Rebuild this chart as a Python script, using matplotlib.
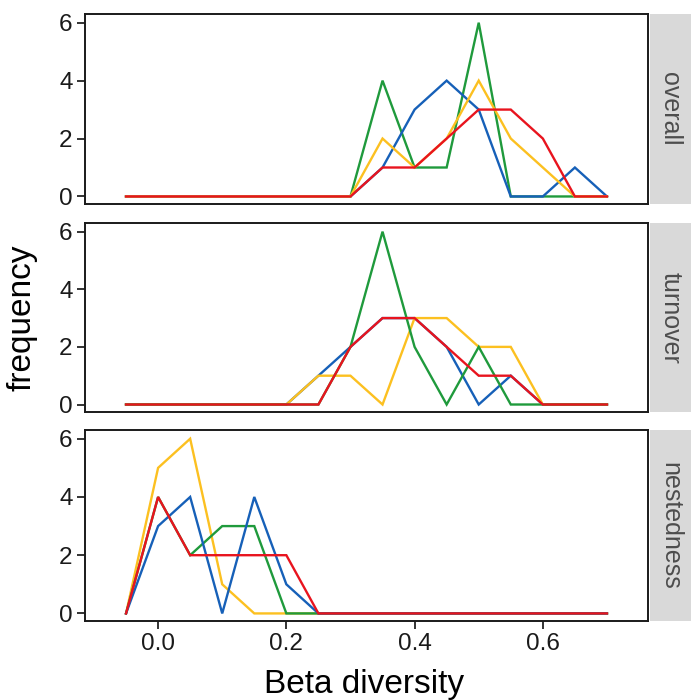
import numpy as np
import matplotlib as mpl
mpl.use('Agg')
import matplotlib.pyplot as plt

plt.rcParams['font.family'] = ['Liberation Sans', 'DejaVu Sans']

# bin midpoints of the frequency polygons
beta = [-0.05, 0.0, 0.05, 0.1, 0.15, 0.2, 0.25, 0.3, 0.35, 0.4, 0.45, 0.5, 0.55, 0.6, 0.65, 0.7]
facets = ['overall', 'turnover', 'nestedness']

overall_blue   = [0, 0, 0, 0, 0, 0, 0, 0, 1, 3, 4, 3, 0, 0, 1, 0]
overall_green  = [0, 0, 0, 0, 0, 0, 0, 0, 4, 1, 1, 6, 0, 0, 0, 0]
overall_yellow = [0, 0, 0, 0, 0, 0, 0, 0, 2, 1, 2, 4, 2, 1, 0, 0]
overall_red    = [0, 0, 0, 0, 0, 0, 0, 0, 1, 1, 2, 3, 3, 2, 0, 0]

turnover_blue   = [0, 0, 0, 0, 0, 0, 1, 2, 3, 3, 2, 0, 1, 0, 0, 0]
turnover_green  = [0, 0, 0, 0, 0, 0, 0, 2, 6, 2, 0, 2, 0, 0, 0, 0]
turnover_yellow = [0, 0, 0, 0, 0, 0, 1, 1, 0, 3, 3, 2, 2, 0, 0, 0]
turnover_red    = [0, 0, 0, 0, 0, 0, 0, 2, 3, 3, 2, 1, 1, 0, 0, 0]

nested_blue   = [0, 3, 4, 0, 4, 1, 0, 0, 0, 0, 0, 0, 0, 0, 0, 0]
nested_green  = [0, 4, 2, 3, 3, 0, 0, 0, 0, 0, 0, 0, 0, 0, 0, 0]
nested_yellow = [0, 5, 6, 1, 0, 0, 0, 0, 0, 0, 0, 0, 0, 0, 0, 0]
nested_red    = [0, 4, 2, 2, 2, 2, 0, 0, 0, 0, 0, 0, 0, 0, 0, 0]

panels = [
    [overall_green, overall_blue, overall_yellow, overall_red],
    [turnover_blue, turnover_yellow, turnover_green, turnover_red],
    [nested_yellow, nested_green, nested_blue, nested_red],
]
panel_colors = [
    ['#1f9a3c', '#1660b8', '#fcc020', '#e8141e'],
    ['#1660b8', '#fcc020', '#1f9a3c', '#e8141e'],
    ['#fcc020', '#1f9a3c', '#1660b8', '#e8141e'],
]

W, H = 691, 700
fig = plt.figure(figsize=(W / 100, H / 100), dpi=100)

# pixel boxes (top, bottom) for each facet
rows = [(14, 204), (223, 412), (430, 621)]
left, right = 85, 648
strip_l, strip_r = 650, 691

for i, (top, bot) in enumerate(rows):
    ax = fig.add_axes([left / W, 1 - bot / H, (right - left) / W, (bot - top) / H])
    for series, col in zip(panels[i], panel_colors[i]):
        ax.plot(beta, series, color=col, lw=1.7, solid_joinstyle='miter')
    ax.set_xlim(-0.114, 0.764)
    ax.set_ylim(-0.26, 6.3)
    ax.set_yticks([0, 2, 4, 6])
    ax.set_xticks([0.0, 0.2, 0.4, 0.6])
    for sp in ax.spines.values():
        sp.set_linewidth(1.4)
        sp.set_color('#1a1a1a')
    ax.tick_params(length=6, width=1.4, color='#333333', labelsize=17.5,
                   labelcolor='#1a1a1a', pad=3)
    if i < 2:
        ax.tick_params(axis='x', length=0, labelbottom=False)
    else:
        ax.set_xticklabels(['0.0', '0.2', '0.4', '0.6'])

    sax = fig.add_axes([strip_l / W, 1 - bot / H, (strip_r - strip_l) / W, (bot - top) / H])
    sax.set_facecolor('#d9d9d9')
    sax.set_xticks([])
    sax.set_yticks([])
    for sp in sax.spines.values():
        sp.set_visible(False)
    sax.text(0.5, 0.5, facets[i], rotation=-90, ha='center', va='center',
             fontsize=18, color='#4d4d4d', transform=sax.transAxes)

fig.text(364 / W, 1 - 684 / H, 'Beta diversity', ha='center', va='center', fontsize=24)
fig.text(22 / W, 1 - 318 / H, 'frequency', ha='center', va='center', fontsize=24, rotation=90)

fig.savefig('out.png', dpi=100)
